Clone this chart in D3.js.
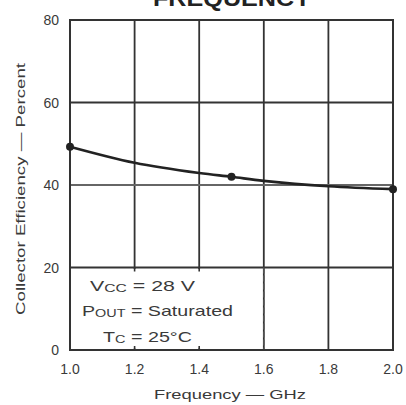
<!DOCTYPE html>
<html><head><meta charset="utf-8">
<script src="https://cdn.jsdelivr.net/npm/d3@7"></script>
<style>body{margin:0;background:#fff}svg{display:block}</style>
</head><body>
<script>
const xTicks = [1.0, 1.2, 1.4, 1.6, 1.8, 2.0];
const xTickLabels = ["1.0", "1.2", "1.4", "1.6", "1.8", "2.0"];
const yTicks = [0, 20, 40, 60, 80];
const yTickLabels = ["0", "20", "40", "60", "80"];
const curveFreq = [1.0, 1.2, 1.4, 1.5, 1.6, 1.8, 2.0];
const curveEff = [49.3, 45.4, 42.9, 42.0, 41.0, 39.7, 39.0];
const markerFreq = [1.0, 1.5, 2.0];
const markerEff = [49.3, 42.0, 39.0];
const condLines = [
  {main: "V", sub: "CC", rest: " = 28 V"},
  {main: "P", sub: "OUT", rest: " = Saturated"},
  {main: "T", sub: "C", rest: " = 25°C"}
];

const W = 406, H = 405;
const m = {l: 70, r: 13, t: 20, b: 55};
const svg = d3.select("body").append("svg").attr("width", W).attr("height", H);
const x = d3.scaleLinear().domain([1.0, 2.0]).range([m.l, W - m.r]);
const y = d3.scaleLinear().domain([0, 80]).range([H - m.b, m.t]);
const font = "Liberation Sans, Arial, sans-serif";
const ink = "#333";
const txt = "#3a3a3a";

// grid
const grid = svg.append("g");
grid.selectAll("line.v").data(xTicks).join("line")
  .attr("x1", d => x(d)).attr("x2", d => x(d)).attr("y1", y(0)).attr("y2", y(80))
  .attr("stroke", ink).attr("stroke-width", 1.8);
grid.selectAll("line.h").data(yTicks).join("line")
  .attr("x1", x(1)).attr("x2", x(2)).attr("y1", d => y(d)).attr("y2", d => y(d))
  .attr("stroke", d => d === 40 ? "#666" : ink).attr("stroke-width", 1.8);

// condition box (white over grid in lower-left block)
svg.append("rect").attr("x", x(1.0) + 1.5).attr("y", y(20) + 1.5)
  .attr("width", x(1.6) - x(1.0) - 3).attr("height", y(0) - y(20) - 3).attr("fill", "#fff");
[1.2, 1.4].forEach(f => {
  svg.append("line").attr("x1", x(f)).attr("x2", x(f)).attr("y1", y(20)).attr("y2", y(20) + 4).attr("stroke", ink).attr("stroke-width", 1.6);
  svg.append("line").attr("x1", x(f)).attr("x2", x(f)).attr("y1", y(0)).attr("y2", y(0) - 4).attr("stroke", ink).attr("stroke-width", 1.6);
});
svg.append("line").attr("x1", x(1.6)).attr("x2", x(1.6)).attr("y1", y(20)).attr("y2", y(0))
  .attr("stroke", "#555").attr("stroke-width", 1.4).attr("stroke-dasharray", "6,2");

// frame
svg.append("rect").attr("x", x(1)).attr("y", y(80)).attr("width", x(2) - x(1)).attr("height", y(0) - y(80))
  .attr("fill", "none").attr("stroke", ink).attr("stroke-width", 2);

// curve
const pts = curveFreq.map((f, i) => [f, curveEff[i]]);
svg.append("path").datum(pts)
  .attr("d", d3.line().x(d => x(d[0])).y(d => y(d[1])).curve(d3.curveCatmullRom))
  .attr("fill", "none").attr("stroke", "#222").attr("stroke-width", 2.6);
svg.selectAll("circle.mk").data(markerFreq.map((f, i) => [f, markerEff[i]])).join("circle")
  .attr("cx", d => x(d[0])).attr("cy", d => y(d[1])).attr("r", 4).attr("fill", "#222");

// tick labels
svg.selectAll("text.yt").data(yTicks).join("text")
  .attr("x", 59).attr("y", (d) => y(d) + 5).attr("text-anchor", "end")
  .attr("font-family", font).attr("font-size", 14).attr("fill", txt)
  .text((d, i) => yTickLabels[i]);
svg.selectAll("text.xt").data(xTicks).join("text")
  .attr("x", d => x(d)).attr("y", 374).attr("text-anchor", "middle")
  .attr("font-family", font).attr("font-size", 14).attr("fill", txt)
  .text((d, i) => xTickLabels[i]);

// axis titles
svg.append("text").attr("x", 230).attr("y", 399).attr("text-anchor", "middle")
  .attr("font-family", font).attr("font-size", 13).attr("fill", txt)
  .attr("textLength", 152).attr("lengthAdjust", "spacingAndGlyphs").text("Frequency — GHz");
svg.append("text").attr("transform", "translate(25,189) rotate(-90)").attr("text-anchor", "middle")
  .attr("font-family", font).attr("font-size", 13).attr("fill", txt)
  .attr("textLength", 252).attr("lengthAdjust", "spacingAndGlyphs").text("Collector Efficiency — Percent");

// title (cut off at top, as in the reference)
svg.append("text").attr("x", 232).attr("y", 6).attr("text-anchor", "middle")
  .attr("font-family", font).attr("font-weight", "bold").attr("font-size", 22).attr("fill", "#222")
  .attr("textLength", 158).attr("lengthAdjust", "spacingAndGlyphs").text("FREQUENCY");

// conditions text
const condPos = [{x0: 90, w: 105, yy: 291}, {x0: 82, w: 151, yy: 316}, {x0: 103, w: 89, yy: 342}];
condLines.forEach((c, i) => {
  const p = condPos[i];
  const t = svg.append("text").attr("x", p.x0).attr("y", p.yy)
    .attr("font-family", font).attr("font-size", 15).attr("fill", txt)
    .attr("textLength", p.w).attr("lengthAdjust", "spacingAndGlyphs");
  t.append("tspan").text(c.main);
  t.append("tspan").attr("font-size", 11).attr("dy", 1).text(c.sub);
  t.append("tspan").attr("dy", -1).text(c.rest);
});
</script>
</body></html>
